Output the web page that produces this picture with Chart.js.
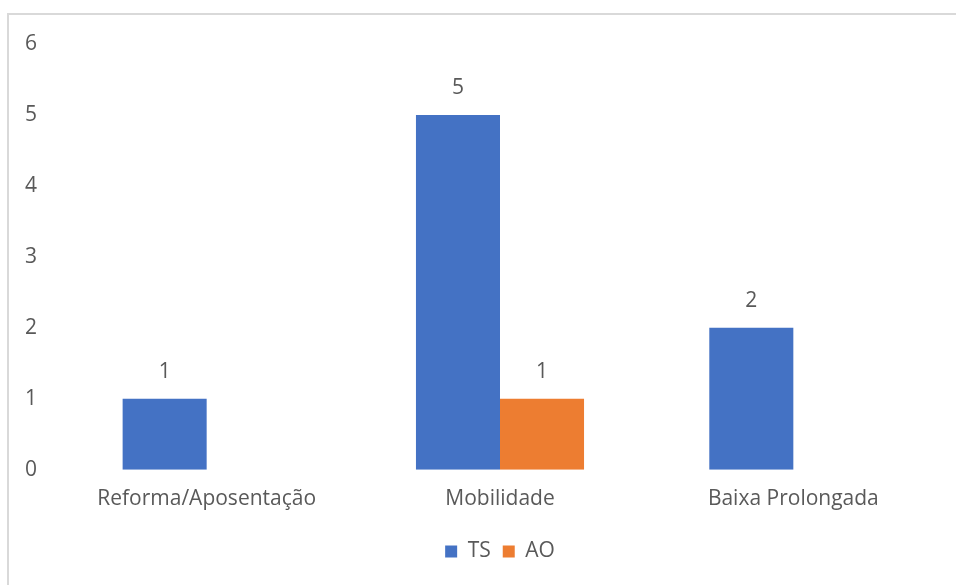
<!DOCTYPE html>
<html>
<head>
<meta charset="utf-8">
<script src="https://cdn.jsdelivr.net/npm/chart.js@4"></script>
<style>
  body { margin: 0; background: #fff; }
  #frame { position: absolute; left: 7px; top: 13px; width: 960px; height: 600px; border-left: 2px solid #d9d9d9; border-top: 2px solid #d9d9d9; }
  #wrap { position: absolute; left: 0; top: 0; width: 956px; height: 585px; }
</style>
</head>
<body>
<div id="frame"></div>
<div id="wrap"><canvas id="myChart"></canvas></div>
<script>
const categories = ['Reforma/Aposentação', 'Mobilidade', 'Baixa Prolongada']
const tsValues = [1, 5, 2]
const aoValues = [null, 1, null]
const yTicks = [0, 1, 2, 3, 4, 5, 6]

const textColor = '#595959'
const fontFamily = "'Open Sans', 'Noto Sans', sans-serif"
const fontSize = 21

// draws the value above each bar, like the excel data labels
const barLabels = {
    id: 'barLabels',
    afterDatasetsDraw(chart) {
        const ctx = chart.ctx
        ctx.save()
        ctx.fillStyle = textColor
        ctx.font = fontSize + 'px ' + fontFamily
        ctx.textAlign = 'center'
        ctx.textBaseline = 'middle'
        chart.data.datasets.forEach((ds, i) => {
            chart.getDatasetMeta(i).data.forEach((bar, j) => {
                if (ds.data[j] == null) return
                ctx.fillText(ds.data[j], bar.x, bar.y - 27)
            })
        })
        ctx.restore()
    }
}

// legend is centred under the plot area in the original, not the whole canvas
const legendShift = {
    id: 'legendShift',
    afterLayout(chart) {
        const lg = chart.legend
        lg.left = chart.chartArea.left
        lg.right = chart.chartArea.right
    }
}

const ctx = document.getElementById('myChart').getContext('2d')
const myChart = new Chart(ctx, {
    type: 'bar',
    data: {
        labels: categories,
        datasets: [
            {
                label: 'TS',
                data: tsValues,
                backgroundColor: '#4472C4',
                categoryPercentage: 0.573,
                barPercentage: 1
            },
            {
                label: 'AO',
                data: aoValues,
                backgroundColor: '#ED7D31',
                categoryPercentage: 0.573,
                barPercentage: 1
            }
        ]
    },
    options: {
        responsive: true,
        maintainAspectRatio: false,
        animation: false,
        layout: {
            padding: {left: 0, right: 16, top: 44, bottom: 13}
        },
        plugins: {
            legend: {
                position: 'bottom',
                labels: {
                    color: textColor,
                    font: {family: fontFamily, size: fontSize},
                    boxWidth: 12,
                    boxHeight: 12,
                    padding: 12
                }
            },
            tooltip: {enabled: false}
        },
        scales: {
            x: {
                grid: {display: false, drawTicks: false},
                border: {display: false},
                ticks: {
                    color: textColor,
                    font: {family: fontFamily, size: fontSize},
                    padding: 17
                }
            },
            y: {
                min: 0,
                max: 6,
                afterBuildTicks: (scale) => {
                    scale.ticks = yTicks.map(v => ({value: v}))
                },
                afterFit: (scale) => {
                    scale.width = 60
                },
                grid: {display: false, drawTicks: false},
                border: {display: false},
                ticks: {
                    color: textColor,
                    font: {family: fontFamily, size: fontSize},
                    padding: 23
                }
            }
        }
    },
    plugins: [barLabels, legendShift]
})
</script>
</body>
</html>
